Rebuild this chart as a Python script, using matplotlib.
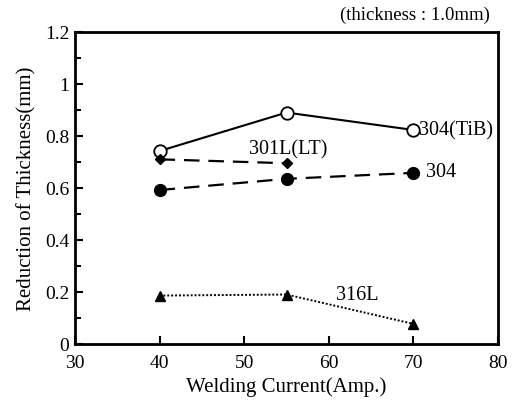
import numpy as np
import matplotlib.pyplot as plt
from matplotlib.ticker import MultipleLocator

plt.rcParams['font.family'] = ['Liberation Serif', 'DejaVu Serif']

# data
current = [40, 55, 70]
tib_304 = [0.742, 0.89, 0.823]
lt_301l = [0.71, 0.695]
plain_304 = [0.592, 0.635, 0.658]
l_316 = [0.186, 0.19, 0.077]

fig = plt.figure(figsize=(5.13, 4.02), dpi=100)
ax = fig.add_axes([0.146, 0.142, 0.825, 0.776])

ax.plot(current, tib_304, '-', color='black', lw=1.5, marker='o', ms=9,
        mfc='white', mec='black', mew=1.3)
ax.plot(current[:2], lt_301l, color='black', lw=1.6, ls=(0, (7, 4)),
        marker='D', ms=5)
ax.plot(current, plain_304, color='black', lw=1.6, ls=(0, (7, 4)),
        marker='o', ms=8.5)
ax.plot(current, l_316, color='black', lw=1.4, ls=(0, (1, 1)),
        marker='^', ms=7.5)

ax.text(70.6, 0.823, '304(TiB)', fontsize=14.5, va='center', ha='left')
ax.text(55.2, 0.75, '301L(LT)', fontsize=14.5, va='center', ha='center')
ax.text(71.5, 0.662, '304', fontsize=14.5, va='center', ha='left')
ax.text(63.3, 0.19, '316L', fontsize=14.5, va='center', ha='center')

ax.set_xlim(30, 80)
ax.set_ylim(0, 1.2)
ax.xaxis.set_major_locator(MultipleLocator(10))
ax.yaxis.set_minor_locator(MultipleLocator(0.1))
ax.set_yticks([0, 0.2, 0.4, 0.6, 0.8, 1, 1.2])
ax.set_yticklabels(['0', '0.2', '0.4', '0.6', '0.8', '1', '1.2'])
ax.tick_params(direction='in', labelsize=14, width=1.5, length=6)
ax.tick_params(axis='x', pad=7)
ax.tick_params(axis='y', pad=4)
ax.tick_params(which='minor', direction='in', width=1.5, length=4)
for s in ax.spines.values():
    s.set_linewidth(2)

ax.set_xlabel('Welding Current(Amp.)', fontsize=15, labelpad=4)
ax.set_ylabel('Reduction of Thickness(mm)', fontsize=15, labelpad=6)
fig.text(0.955, 0.962, '(thickness : 1.0mm)', fontsize=13.5, ha='right', va='center')

fig.savefig('out.png', dpi=100)
